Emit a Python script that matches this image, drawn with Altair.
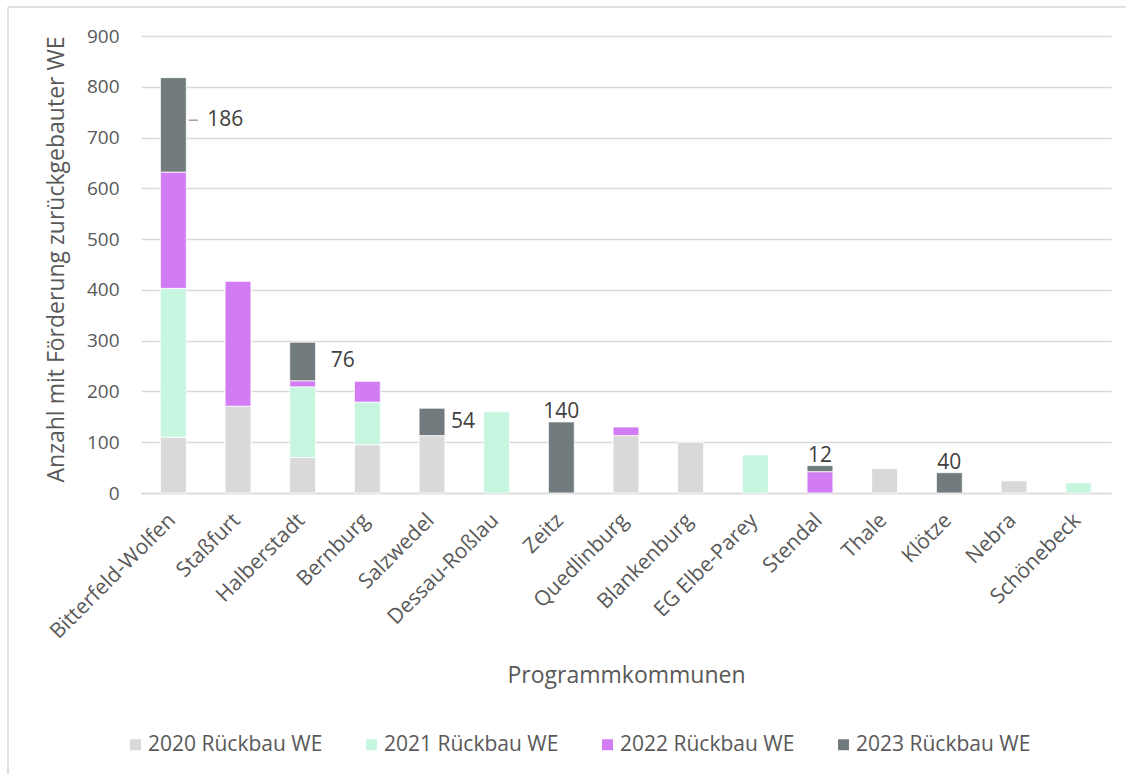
import altair as alt
import pandas as pd

categories = ["Bitterfeld-Wolfen", "Staßfurt", "Halberstadt", "Bernburg", "Salzwedel",
              "Dessau-Roßlau", "Zeitz", "Quedlinburg", "Blankenburg", "EG Elbe-Parey",
              "Stendal", "Thale", "Klötze", "Nebra", "Schönebeck"]
years = ["2020 Rückbau WE", "2021 Rückbau WE", "2022 Rückbau WE", "2023 Rückbau WE"]
v2020 = [110, 171, 70, 95, 113, 0, 0, 113, 100, 0, 0, 48, 0, 24, 0]
v2021 = [293, 0, 139, 84, 0, 160, 0, 0, 0, 75, 0, 0, 0, 0, 20]
v2022 = [229, 246, 12, 41, 0, 0, 0, 17, 0, 0, 42, 0, 0, 0, 0]
v2023 = [186, 0, 76, 0, 54, 0, 140, 0, 0, 0, 12, 0, 40, 0, 0]
colors = ["#d9d9d9", "#c6f5e0", "#d17cf3", "#717a7c"]

FONT = "Open Sans"
TXT = "#595959"

rows = []
series = [v2020, v2021, v2022, v2023]
for i, c in enumerate(categories):
    for j, vals in enumerate(series):
        rows.append({"Kommune": c, "Jahr": years[j], "ord": j, "Wert": vals[i]})
df = pd.DataFrame(rows)

# labels for the 2023 values
lab = []
for i, c in enumerate(categories):
    if v2023[i] > 0:
        total = v2020[i] + v2021[i] + v2022[i] + v2023[i]
        lab.append({"Kommune": c, "Wert": v2023[i], "total": total,
                    "mid": total - v2023[i] / 2})
labdf = pd.DataFrame(lab)

# per-label placement (style, not data)
right_place = {"Bitterfeld-Wolfen": (34, -5), "Halberstadt": (28, 0), "Salzwedel": (19, 0)}

xenc = alt.X("Kommune:N", sort=categories,
             scale=alt.Scale(paddingInner=0.6, paddingOuter=0.3),
             title="Programmkommunen",
             axis=alt.Axis(labelAngle=315, labelAlign="right", labelBaseline="middle",
                           labelPadding=24, labelOffset=-1, labelFontSize=21, labelColor=TXT,
                           labelFont=FONT, labelOverlap=False, labelLimit=400,
                           ticks=False, grid=False, domainColor="#d9d9d9", domainWidth=1.5,
                           titleFont=FONT, titleFontSize=23, titleColor=TXT,
                           titleFontWeight="normal", titleY=182, titleBaseline="middle"))
yscale = alt.Scale(domain=[0, 900], nice=False)

bars = alt.Chart(df).transform_filter("datum.Wert > 0").mark_bar(
    stroke="white", strokeWidth=0.8
).encode(
    x=xenc,
    y=alt.Y("Wert:Q", stack="zero", scale=yscale,
            title="Anzahl mit Förderung zurückgebauter WE",
            axis=alt.Axis(values=list(range(0, 901, 100)), labelFontSize=19, labelColor=TXT,
                          labelFont=FONT, labelPadding=22, domain=False, ticks=False,
                          gridColor="#d9d9d9", gridWidth=1.5,
                          titleFont=FONT, titleFontSize=23, titleColor=TXT,
                          titleFontWeight="normal", titleAngle=270, titleX=-85, titleY=223,
                          titleBaseline="middle", titleAlign="center")),
    color=alt.Color("Jahr:N", scale=alt.Scale(domain=years, range=colors),
                    legend=alt.Legend(title=None, orient="none", legendX=-16, legendY=698,
                                      direction="horizontal", columns=4,
                                      symbolType="square", symbolSize=120,
                                      symbolStrokeWidth=0, labelFont=FONT,
                                      labelFontSize=21, labelColor=TXT, labelOffset=2,
                                      labelLimit=0, columnPadding=38)),
    order=alt.Order("ord:Q", sort="ascending"),
)

layers = [bars]

top_names = [c for c in labdf["Kommune"] if c not in right_place]
top_labels = alt.Chart(labdf).transform_filter(
    alt.FieldOneOfPredicate(field="Kommune", oneOf=top_names)
).mark_text(font=FONT, fontSize=21, color="#404040", baseline="alphabetic", dy=-4).encode(
    x=alt.X("Kommune:N", sort=categories),
    y=alt.Y("total:Q", scale=yscale),
    text=alt.Text("Wert:Q"),
)
layers.append(top_labels)

for name, (dx, dy) in right_place.items():
    layers.append(
        alt.Chart(labdf).transform_filter(alt.datum.Kommune == name).mark_text(
            font=FONT, fontSize=21, color="#404040", align="left", baseline="middle",
            dx=dx, dy=dy
        ).encode(x=alt.X("Kommune:N", sort=categories), y=alt.Y("mid:Q", scale=yscale),
                 text=alt.Text("Wert:Q"))
    )

# leader line for the first label
leader = alt.Chart(labdf).transform_filter(alt.datum.Kommune == "Bitterfeld-Wolfen").mark_text(
    text="–", font=FONT, fontSize=22, color="#a6a6a6", align="center", baseline="middle",
    dx=20, dy=-6
).encode(x=alt.X("Kommune:N", sort=categories), y=alt.Y("mid:Q", scale=yscale))
layers.append(leader)

# outer frame (left and top edges of the chart border)
one = alt.Data(values=[{"k": 1}])
frame_top = alt.Chart(one).mark_rule(color="#d9d9d9", strokeWidth=1.5).encode(
    x=alt.value(-133), x2=alt.value(985), y=alt.value(-29))
frame_left = alt.Chart(one).mark_rule(color="#d9d9d9", strokeWidth=1.5).encode(
    x=alt.value(-133), y=alt.value(-29), y2=alt.value(738))
layers += [frame_top, frame_left]

chart = alt.layer(*layers).properties(
    width=970, height=457,
    padding={"left": 7, "top": 6, "right": 0, "bottom": 0},
    background="white",
).configure_view(stroke=None)

chart.save("out.html", embed_options={"renderer": "svg", "actions": False})
